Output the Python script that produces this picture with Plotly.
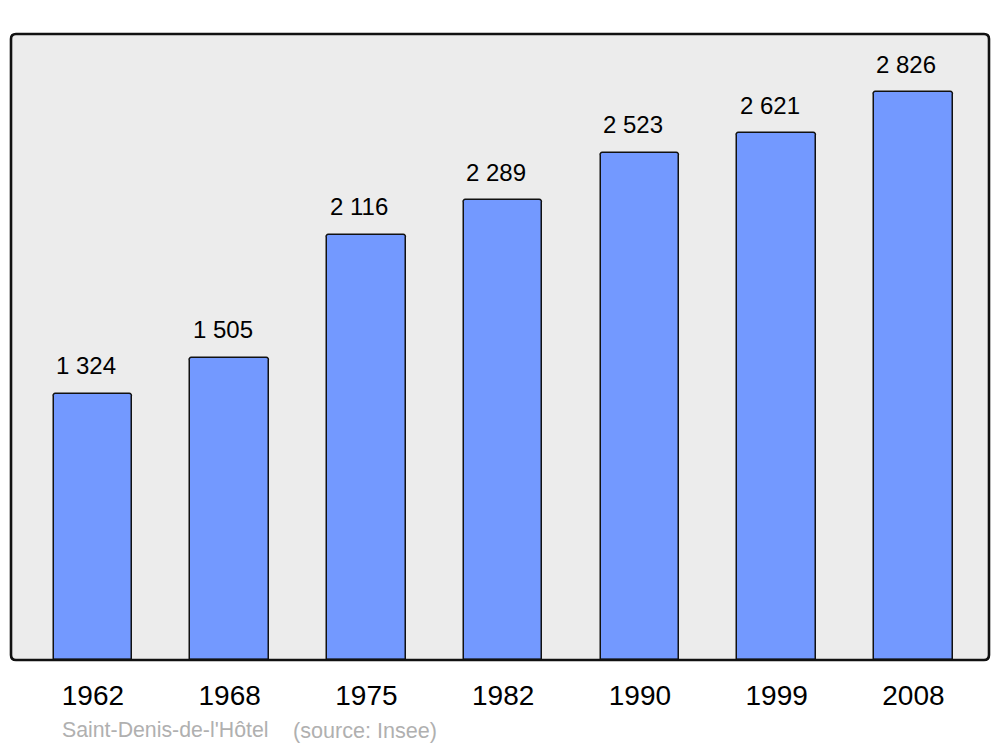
import plotly.graph_objects as go

years = ["1962", "1968", "1975", "1982", "1990", "1999", "2008"]
population = [1324, 1505, 2116, 2289, 2523, 2621, 2826]
value_labels = ["1 324", "1 505", "2 116", "2 289", "2 523", "2 621", "2 826"]
commune = "Saint-Denis-de-l'Hôtel"
source = "(source: Insee)"

xpos = list(range(len(years)))
FONT = "Liberation Sans, Arial, sans-serif"

W, H = 1000, 747
ML, MR, MT, MB = 11, 11, 34, 87
PW, PH = W - ML - MR, H - MT - MB

fig = go.Figure()
fig.add_trace(go.Bar(
    x=xpos, y=population, width=0.575,
    marker=dict(color="#7399ff", line=dict(color="#111111", width=1.5), cornerradius=3),
    hoverinfo="skip",
))

for i, (v, lab) in enumerate(zip(population, value_labels)):
    fig.add_annotation(x=i, y=v, text=lab, showarrow=False, xref="x", yref="y",
                       yanchor="middle", yshift=28, xshift=-7,
                       font=dict(family=FONT, size=24, color="#000"))

fig.add_annotation(xref="paper", yref="paper", x=(60 - ML) / PW, y=(H - MB - 730) / PH, text=commune,
                   showarrow=False, xanchor="left", yanchor="middle",
                   font=dict(family=FONT, size=21.3, color="#b0b0b0"))
fig.add_annotation(xref="paper", yref="paper", x=(291 - ML) / PW, y=(H - MB - 730) / PH, text=source,
                   showarrow=False, xanchor="left", yanchor="middle",
                   font=dict(family=FONT, size=21.6, color="#b0b0b0"))

# rounded frame around the plotting area (paper coordinates)
rx, ry = 5 / PW, 5 / PH
frame = (f"M {rx},0 L {1-rx},0 Q 1,0 1,{ry} L 1,{1-ry} Q 1,1 {1-rx},1 "
         f"L {rx},1 Q 0,1 0,{1-ry} L 0,{ry} Q 0,0 {rx},0 Z")
fig.add_shape(type="path", path=frame, xref="paper", yref="paper",
              fillcolor="#ececec", line=dict(width=0), layer="below")
fig.add_shape(type="path", path=frame, xref="paper", yref="paper",
              line=dict(color="#111111", width=2.6), layer="above")

fig.update_layout(
    width=W, height=H,
    margin=dict(l=ML, r=MR, t=MT, b=MB),
    paper_bgcolor="white", plot_bgcolor="white",
    showlegend=False,
    bargap=0,
    xaxis=dict(range=[-0.599, 6.553], tickmode="array", tickvals=xpos, ticktext=years,
               showgrid=False, zeroline=False, showline=False,
               ticks="outside", ticklen=10, tickcolor="rgba(0,0,0,0)",
               tickfont=dict(family=FONT, size=28, color="#000")),
    yaxis=dict(range=[0, 3115], showgrid=False, zeroline=False, showticklabels=False,
               showline=False, ticks=""),
)

fig.write_html("out.html", config={"displayModeBar": False},
               post_script="document.body.style.margin='0';")
